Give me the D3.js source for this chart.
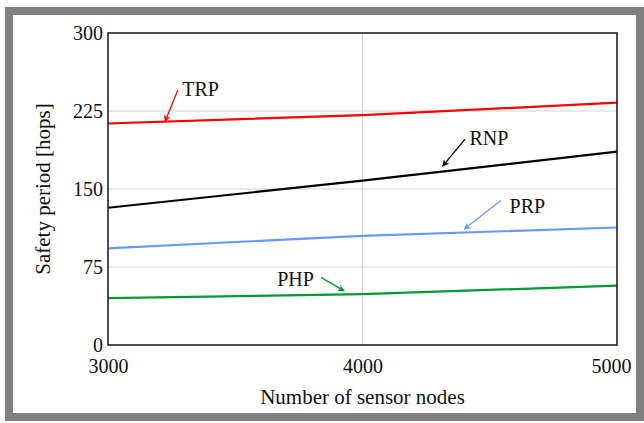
<!DOCTYPE html>
<html>
<head>
<meta charset="utf-8">
<script src="https://cdn.jsdelivr.net/npm/d3@7"></script>
<style>
  html, body { margin: 0; padding: 0; background: #fff; }
  svg { display: block; }
  text { font-family: "Liberation Serif", "Times New Roman", serif; fill: #111; }
</style>
</head>
<body>
<svg id="chart" width="644" height="423"></svg>
<script>
// Network sizes on the x axis
const nodeCounts = [3000, 4000, 5000];

// Safety period (hops) per routing protocol
const seriesNames = ["TRP", "RNP", "PRP", "PHP"];
const trpValues = [213, 221, 233];
const rnpValues = [132, 158, 186];
const prpValues = [93, 105, 113];
const phpValues = [45, 49, 57];

// Axis ticks
const xTicks = [3000, 4000, 5000];
const yTicks = [0, 75, 150, 225, 300];

const seriesValues = [trpValues, rnpValues, prpValues, phpValues];
const colors = { TRP: "#ff0000", RNP: "#000000", PRP: "#6699ff", PHP: "#009933" };

// Callout labels: text anchor, arrow tail and arrow tip, in data units
const callouts = [
  { name: "TRP", text: [3292, 239], tail: [3274, 245], tip: [3224, 215] },
  { name: "RNP", text: [4420, 192], tail: [4403, 198], tip: [4315, 172] },
  { name: "PRP", text: [4578, 127], tail: [4544, 139], tip: [4400, 111.5] },
  { name: "PHP", text: [3665, 56.5], tail: [3837, 65], tip: [3928, 52] }
];

const svg = d3.select("#chart");

// Outer grey frame
svg.append("rect")
  .attr("x", 9).attr("y", 11)
  .attr("width", 631).attr("height", 406)
  .attr("fill", "none")
  .attr("stroke", "#808080")
  .attr("stroke-width", 8);

const plot = { left: 108, right: 617, top: 33, bottom: 345 };

const x = d3.scaleLinear().domain([3000, 5000]).range([plot.left, plot.right]);
const y = d3.scaleLinear().domain([0, 300]).range([plot.bottom, plot.top]);

// Grid lines
const grid = svg.append("g").attr("stroke", "#d3d3d3").attr("stroke-width", 1.2);
yTicks.filter(t => t > 0 && t < 300).forEach(t => {
  grid.append("line")
    .attr("x1", plot.left).attr("x2", plot.right)
    .attr("y1", y(t)).attr("y2", y(t));
});
xTicks.filter(t => t > 3000 && t < 5000).forEach(t => {
  grid.append("line")
    .attr("x1", x(t)).attr("x2", x(t))
    .attr("y1", plot.top).attr("y2", plot.bottom);
});

// Series lines
const line = d3.line()
  .x((d, i) => x(nodeCounts[i]))
  .y(d => y(d));

seriesNames.forEach((name, k) => {
  svg.append("path")
    .datum(seriesValues[k])
    .attr("d", line)
    .attr("fill", "none")
    .attr("stroke", colors[name])
    .attr("stroke-width", 2.2);
});

// Arrowhead markers, one per colour
const defs = svg.append("defs");
seriesNames.forEach(name => {
  defs.append("marker")
    .attr("id", "arrow-" + name)
    .attr("viewBox", "0 0 10 10")
    .attr("refX", 9).attr("refY", 5)
    .attr("markerWidth", 9).attr("markerHeight", 7)
    .attr("markerUnits", "userSpaceOnUse")
    .attr("orient", "auto")
    .append("path")
    .attr("d", "M0,0 L10,5 L0,10 L3,5 Z")
    .attr("fill", colors[name]);
});

callouts.forEach(c => {
  svg.append("line")
    .attr("x1", x(c.tail[0])).attr("y1", y(c.tail[1]))
    .attr("x2", x(c.tip[0])).attr("y2", y(c.tip[1]))
    .attr("stroke", colors[c.name])
    .attr("stroke-width", 1.3)
    .attr("marker-end", "url(#arrow-" + c.name + ")");
  svg.append("text")
    .attr("x", x(c.text[0])).attr("y", y(c.text[1]))
    .attr("font-size", 20)
    .text(c.name);
});

// Plot frame
svg.append("rect")
  .attr("x", plot.left).attr("y", plot.top)
  .attr("width", plot.right - plot.left)
  .attr("height", plot.bottom - plot.top)
  .attr("fill", "none")
  .attr("stroke", "#222")
  .attr("stroke-width", 1.6);

// Axes (labels only; the frame draws the spines)
const yAxis = svg.append("g")
  .attr("transform", `translate(${plot.left},0)`)
  .call(d3.axisLeft(y).tickValues(yTicks).tickSize(0).tickPadding(5).tickFormat(d3.format("d")));
yAxis.select(".domain").remove();
yAxis.selectAll("text")
  .attr("font-size", 20)
  .style("font-family", '"Liberation Serif", "Times New Roman", serif')
  .attr("fill", "#111");

const xAxis = svg.append("g")
  .attr("transform", `translate(0,${plot.bottom})`)
  .call(d3.axisBottom(x).tickValues(xTicks).tickSize(0).tickPadding(14).tickFormat(d3.format("d")));
xAxis.select(".domain").remove();
xAxis.selectAll("text")
  .attr("font-size", 20)
  .style("font-family", '"Liberation Serif", "Times New Roman", serif')
  .attr("fill", "#111");
xAxis.selectAll(".tick").filter(d => d === 5000).select("text")
  .attr("text-anchor", "end").attr("dx", 14);

// Axis titles
svg.append("text")
  .attr("x", (plot.left + plot.right) / 2)
  .attr("y", 404)
  .attr("text-anchor", "middle")
  .attr("font-size", 21)
  .text("Number of sensor nodes");

svg.append("text")
  .attr("transform", `translate(50,${(plot.top + plot.bottom) / 2}) rotate(-90)`)
  .attr("text-anchor", "middle")
  .attr("font-size", 21)
  .text("Safety period [hops]");
</script>
</body>
</html>
